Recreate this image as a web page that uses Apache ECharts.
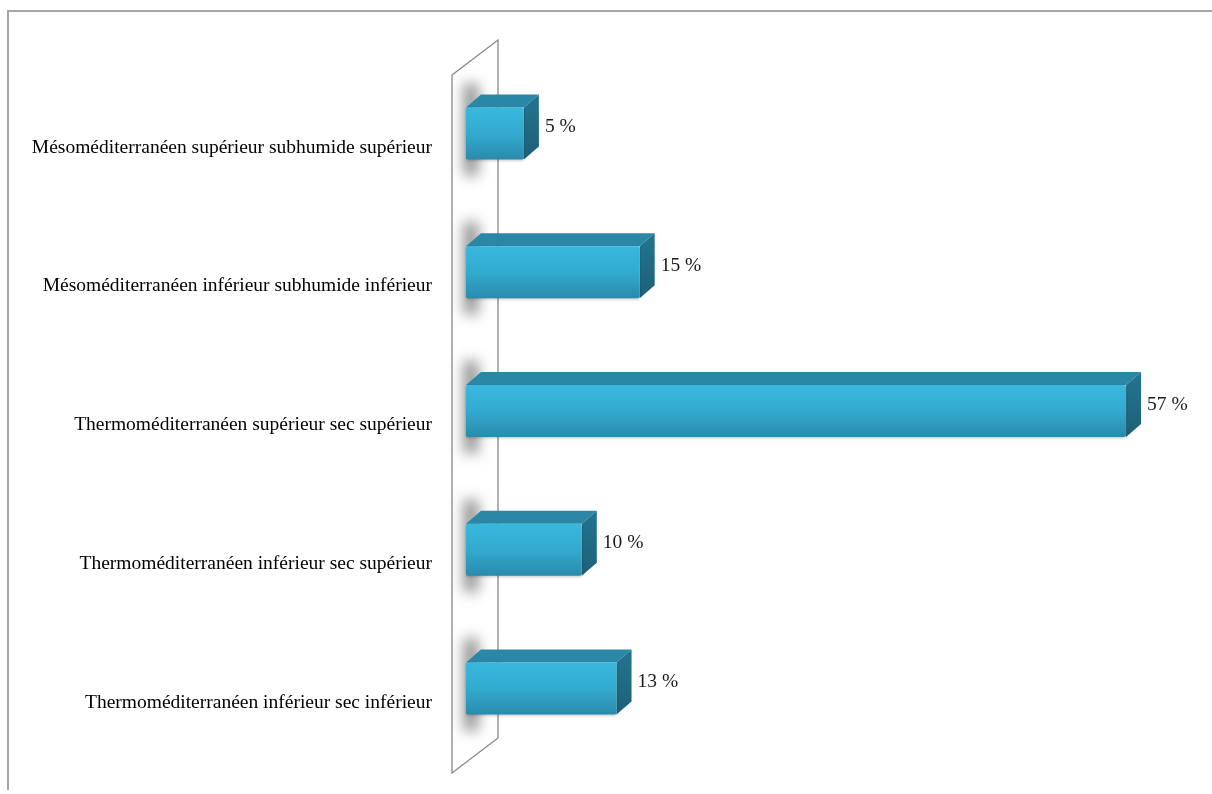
<!DOCTYPE html>
<html>
<head>
<meta charset="utf-8">
<script src="https://cdn.jsdelivr.net/npm/echarts@6/dist/echarts.min.js"></script>
<style>
html,body{margin:0;padding:0;background:#fff;}
#c{width:1212px;height:794px;}
</style>
</head>
<body>
<div id="c"></div>
<script>
var categories = [
  'Mésoméditerranéen supérieur subhumide supérieur',
  'Mésoméditerranéen inférieur subhumide inférieur',
  'Thermoméditerranéen supérieur sec supérieur',
  'Thermoméditerranéen inférieur sec supérieur',
  'Thermoméditerranéen inférieur sec inférieur'
];
var values = [5, 15, 57, 10, 13];

var chart = echarts.init(document.getElementById('c'));

var DX = 15, DY = -13;

function renderItem(params, api) {
  var v = api.value(1);
  var idx = api.value(0);
  var p0 = api.coord([0, idx]);
  var p1 = api.coord([v, idx]);
  var x0 = p0[0], x1 = p1[0], yc = p0[1];
  var top = yc - 40, bot = yc + 12;
  var children = [];
  // soft shadow on the wall (shape drawn off-screen, only its shadow shows)
  children.push({
    type: 'rect',
    shape: { x: x0 - 2 - 2000, y: top - 24, width: 14, height: bot - top + 40 },
    style: { fill: '#000', shadowBlur: 14, shadowColor: 'rgba(0,0,0,0.45)', shadowOffsetX: 2000 }
  });
  // top face
  children.push({
    type: 'polygon',
    shape: { points: [[x0, top], [x0 + DX, top + DY], [x1 + DX, top + DY], [x1, top]] },
    style: { fill: '#2a88a6' }
  });
  // right face
  children.push({
    type: 'polygon',
    shape: { points: [[x1, top], [x1 + DX, top + DY], [x1 + DX, bot + DY], [x1, bot]] },
    style: { fill: new echarts.graphic.LinearGradient(0, 0, 0, 1, [
      { offset: 0, color: '#237590' }, { offset: 1, color: '#1d6078' }]) }
  });
  // front face
  children.push({
    type: 'rect',
    shape: { x: x0, y: top, width: x1 - x0, height: bot - top, r: 2 },
    style: { fill: new echarts.graphic.LinearGradient(0, 0, 0, 1, [
      { offset: 0, color: '#39b8de' }, { offset: 0.5, color: '#33aacf' }, { offset: 1, color: '#2a8bab' }]),
      shadowBlur: 3, shadowColor: 'rgba(0,0,0,0.25)', shadowOffsetY: 1 }
  });
  // value label
  children.push({
    type: 'text',
    style: {
      x: x1 + DX + 6, y: (top + DY + bot) / 2,
      text: v + ' %', fill: '#1a1a1a',
      font: '19.5px "Liberation Serif"', verticalAlign: 'middle', align: 'left'
    }
  });
  return { type: 'group', children: children };
}

var option = {
  animation: false,
  backgroundColor: '#fff',
  graphic: [
    { type: 'polyline', z: 0, shape: { points: [[8, 790], [8, 11], [1212, 11]] },
      style: { stroke: '#a6a6a6', lineWidth: 2, fill: null } },
    { type: 'polygon', z: 0, shape: { points: [[452, 75], [498, 40], [498, 738], [452, 773]] },
      style: { stroke: '#888', lineWidth: 1.3, fill: '#fff' } }
  ],
  grid: { left: 466, top: 78, height: 694, width: 694.8, containLabel: false },
  xAxis: { type: 'value', min: 0, max: 60, show: false },
  yAxis: {
    type: 'category', data: categories, inverse: true,
    axisLine: { show: false }, axisTick: { show: false }, splitLine: { show: false },
    axisLabel: { margin: 34, color: '#000', fontFamily: 'Liberation Serif', fontSize: 19.5 }
  },
  series: [{
    type: 'custom',
    renderItem: renderItem,
    encode: { x: 1, y: 0 },
    data: values.map(function (v, i) { return [i, v]; }),
    z: 5
  }]
};
chart.setOption(option);
</script>
</body>
</html>
